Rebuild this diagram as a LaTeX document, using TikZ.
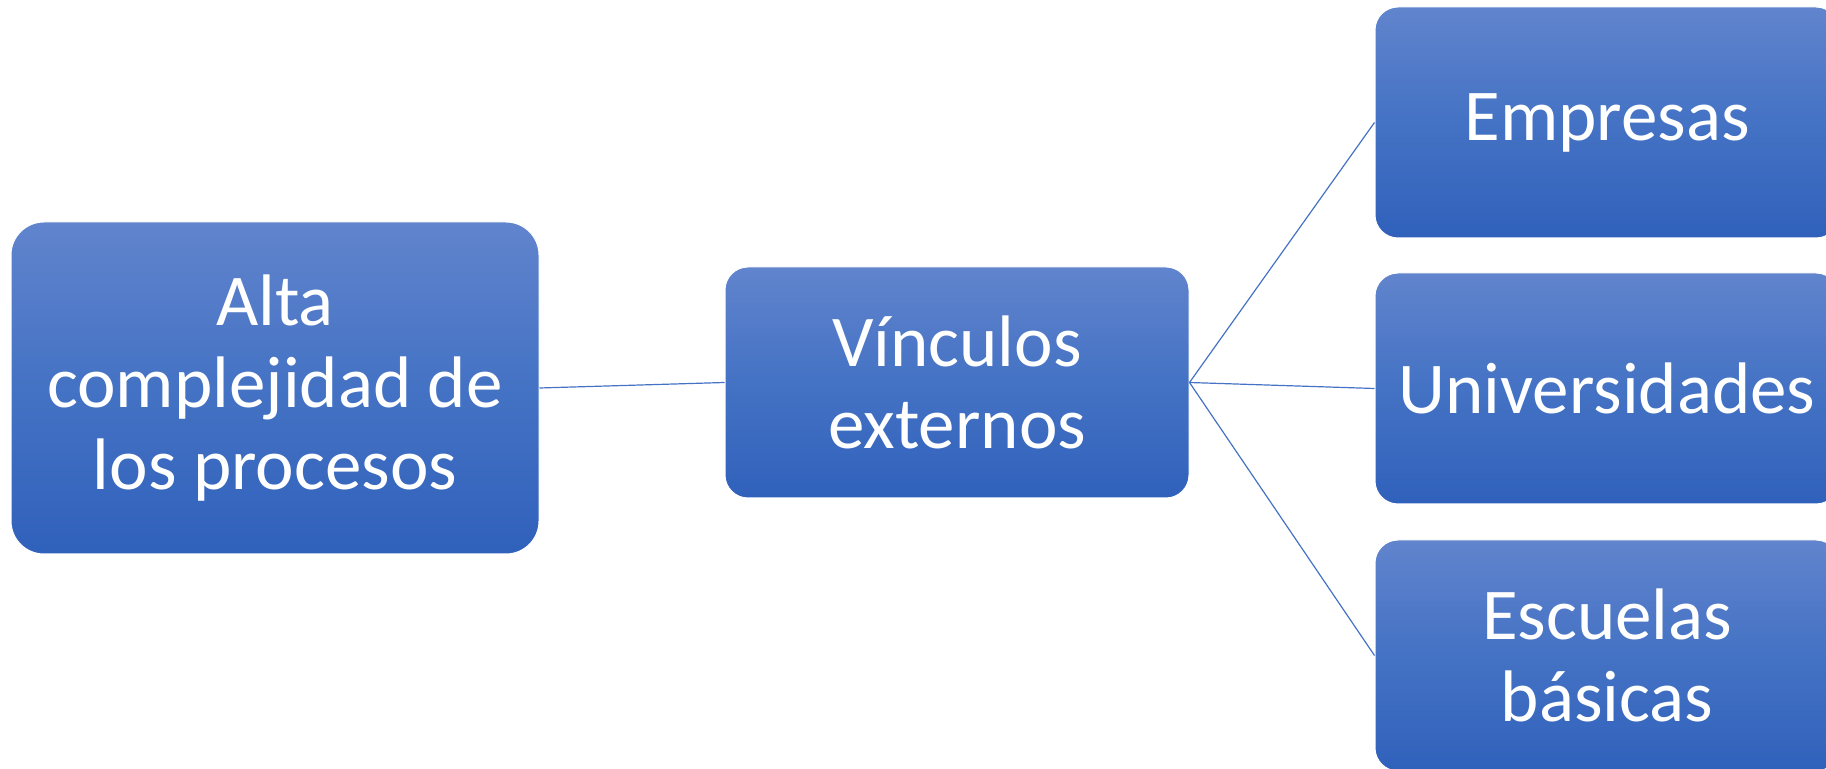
\documentclass[tikz,border=0pt]{standalone}
\usepackage{fontspec}
\setmainfont{Carlito}
\definecolor{boxtop}{RGB}{97,132,205}
\definecolor{boxmid}{RGB}{68,114,196}
\definecolor{boxbot}{RGB}{48,97,187}
\definecolor{linkblue}{RGB}{68,114,196}
\tikzset{
  box/.style={rectangle, rounded corners=11.5pt, top color=boxtop, bottom color=boxbot, middle color=boxmid,
    draw=white, line width=0.5pt, text=white, align=center,
    font=\fontsize{36.5}{41}\selectfont, inner sep=0pt,
    minimum width=232pt, minimum height=115.5pt},
  link/.style={draw=linkblue, line width=0.6pt}
}
\begin{document}
\begin{tikzpicture}[x=0.5pt,y=-0.5pt]
\useasboundingbox (0,0) rectangle (1826,769);
\begin{scope}
\clip (0,0) rectangle (1826,769);
\node[box, minimum width=264pt, minimum height=166pt, rounded corners=16.5pt] (alta) at (275,388) {Alta\\complejidad de\\los procesos};
\node[box] (vin) at (957,382.5) {Vínculos\\externos};
\node[box] (emp) at (1607,122.5) {Empresas};
\node[box] (uni) at (1607,388.5) {Universidades};
\node[box] (esc) at (1607,655.5) {Escuelas\\básicas};
\draw[link] (alta.east) -- (vin.west);
\draw[link] (vin.east) -- (emp.west);
\draw[link] (vin.east) -- (uni.west);
\draw[link] (vin.east) -- (esc.west);
\end{scope}
\end{tikzpicture}
\end{document}
